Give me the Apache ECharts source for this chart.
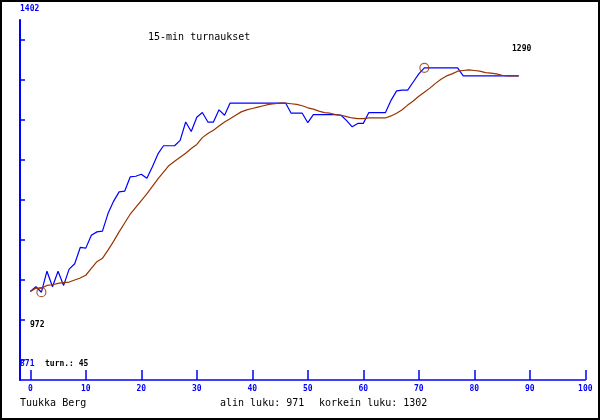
<!DOCTYPE html>
<html>
<head>
<meta charset="utf-8">
<script src="https://cdn.jsdelivr.net/npm/echarts@6.0.0/dist/echarts.min.js"></script>
<style>
  html, body { margin: 0; padding: 0; background: #fff; }
  #wrap { position: relative; width: 600px; height: 420px; }
  #chart { position: absolute; left: 0; top: 0; width: 600px; height: 420px; }
  #frame { position: absolute; left: 0; top: 0; width: 600px; height: 420px; box-sizing: border-box; border: 2px solid #000; pointer-events: none; }
</style>
</head>
<body>
<div id="wrap"><div id="chart"></div><div id="frame"></div></div>
<script>
// ---- data ----
const turnValues = [
  972, 979, 971, 1002, 979, 1002, 981, 1005, 1013, 1037,
  1036, 1055, 1060, 1061, 1087, 1105, 1119, 1120, 1141, 1142,
  1145, 1139, 1156, 1175, 1187, 1187, 1187, 1195, 1222, 1208,
  1229, 1236, 1222, 1222, 1240, 1232, 1250, 1250, 1250, 1250,
  1250, 1250, 1250, 1250, 1250, 1250, 1250, 1235, 1235, 1235,
  1221, 1233, 1233, 1233, 1233, 1233, 1232, 1224, 1215, 1220,
  1220, 1236, 1236, 1236, 1236, 1254, 1268, 1269, 1269, 1281,
  1293, 1302, 1302, 1302, 1302, 1302, 1302, 1302, 1290, 1290,
  1290, 1290, 1290, 1290, 1290, 1290, 1290, 1290, 1290
];
const avgValues = [
  972, 977, 977, 981, 982, 984, 985, 986, 989, 992,
  996, 1006, 1016, 1021, 1033, 1046, 1060, 1073, 1086, 1096,
  1106, 1116, 1127, 1138, 1148, 1158, 1164, 1170, 1176, 1183,
  1189, 1199, 1205, 1210, 1216, 1222, 1227, 1232, 1237, 1240,
  1242, 1244, 1246, 1248, 1249, 1250, 1250, 1249, 1248, 1246,
  1243, 1241, 1238, 1236, 1235, 1233, 1232, 1230, 1228, 1227,
  1227, 1228, 1228, 1228, 1228, 1231, 1235, 1240, 1247, 1253,
  1260, 1266, 1272, 1279, 1285, 1290, 1293, 1297, 1298, 1299,
  1298, 1297, 1295, 1294, 1293, 1291, 1290, 1290, 1290
];
const turnIndex = turnValues.map((v, i) => i);
const xTickLabels = [0, 10, 20, 30, 40, 50, 60, 70, 80, 90, 100];
const yScaleLow = 871;
const yScaleHigh = 1402;
const yTickStep = 59;
const minPoint = [2, 971];
const maxPoint = [71, 1302];
const firstLabel = '972';
const lastLabel = '1290';
const titleText = '15-min turnaukset';
const authorText = 'Tuukka Berg';
const lowText = 'alin luku: 971';
const highText = 'korkein luku: 1302';
const turnText = 'turn.: 45';

// ---- chart ----
const BLUE = '#0000ff';
const BROWN = '#993300';
const MONO = "'DejaVu Sans Mono', 'Liberation Mono', monospace";

const yTicks = [];
for (let v = yScaleLow; v < yScaleHigh; v += yTickStep) yTicks.push(v);

const chart = echarts.init(document.getElementById('chart'), null, { renderer: 'canvas' });

function txt(text, x, y, font, color) {
  return { type: 'text', x: x, y: y, silent: true,
    style: { text: text, font: font, fill: color, align: 'left', verticalAlign: 'middle' } };
}

chart.setOption({
  animation: false,
  backgroundColor: '#ffffff',
  grid: { left: 20, right: 14.7, top: 20, bottom: 40, containLabel: false },
  xAxis: {
    type: 'value', min: -1.856, max: 100,
    axisLine: { show: true, onZero: false, lineStyle: { color: BLUE, width: 1.5 } },
    axisTick: { show: true, inside: true, length: 10, customValues: xTickLabels, lineStyle: { color: BLUE, width: 1.5 } },
    axisLabel: { show: true, customValues: xTickLabels, margin: 5, color: BLUE, fontFamily: MONO, fontWeight: 'bold', fontSize: 8 },
    splitLine: { show: false }
  },
  yAxis: {
    type: 'value', min: 841.5, max: 1372.5,
    axisLine: { show: true, onZero: false, lineStyle: { color: BLUE, width: 2 } },
    axisTick: { show: true, inside: true, length: 5, customValues: yTicks, lineStyle: { color: BLUE, width: 1.5 } },
    axisLabel: { show: false },
    splitLine: { show: false }
  },
  series: [
    {
      type: 'line', name: 'turn',
      data: turnIndex.map((x, i) => [x, turnValues[i]]),
      showSymbol: false, symbol: 'none',
      lineStyle: { color: BLUE, width: 1.2 }, z: 2
    },
    {
      type: 'line', name: 'avg',
      data: turnIndex.map((x, i) => [x, avgValues[i]]),
      showSymbol: false, symbol: 'none',
      lineStyle: { color: BROWN, width: 1.2 }, z: 3
    },
    {
      type: 'scatter', name: 'extremes',
      data: [minPoint, maxPoint],
      symbol: 'circle', symbolSize: 9,
      itemStyle: { color: 'rgba(0,0,0,0)', borderColor: BROWN, borderWidth: 1.2 }, z: 4
    }
  ],
  graphic: [
    txt(String(yScaleHigh), 20, 9, 'bold 8px ' + MONO, BLUE),
    txt(String(yScaleLow), 20, 364, 'bold 8px ' + MONO, BLUE),
    txt(turnText, 45, 364, 'bold 8px ' + MONO, '#000'),
    txt(firstLabel, 30, 325, 'bold 8px ' + MONO, '#000'),
    txt(lastLabel, 512, 49, 'bold 8px ' + MONO, '#000'),
    txt(titleText, 148, 37, '10px ' + MONO, '#000'),
    txt(authorText, 20, 403, '10px ' + MONO, '#000'),
    txt(lowText, 220, 403, '10px ' + MONO, '#000'),
    txt(highText, 319, 403, '10px ' + MONO, '#000')
  ]
});
</script>
</body>
</html>
